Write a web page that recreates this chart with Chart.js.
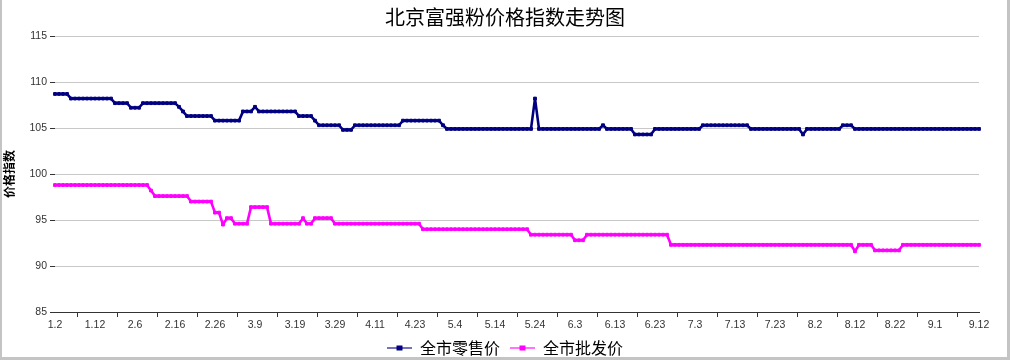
<!DOCTYPE html>
<html><head><meta charset="utf-8">
<script src="https://cdn.jsdelivr.net/npm/chart.js@4/dist/chart.umd.min.js"></script>
<style>
html,body{margin:0;padding:0;background:#fff;overflow:hidden;}
#wrap{position:relative;width:1010px;height:360px;}
#frame{position:absolute;left:0;top:0;width:1010px;height:360px;box-sizing:border-box;border-left:2px solid #c4c4c4;border-right:3px solid #c4c4c4;border-bottom:3px solid #c4c4c4;pointer-events:none;}
</style></head><body>
<div id="wrap"><canvas id="c" width="1010" height="360"></canvas><div id="frame"></div></div>
<script>
// ---- data ----
const tickLabels = ['1.2','1.12','2.6','2.16','2.26','3.9','3.19','3.29','4.11','4.23','5.4','5.14','5.24','6.3','6.13','6.23','7.3','7.13','7.23','8.2','8.12','8.22','9.1','9.12'];
const tickIndex = [0,10,20,30,40,50,60,70,80,90,100,110,120,130,140,150,160,170,180,190,200,210,220,231];
const yTicks = [85,90,95,100,105,110,115];
const seriesNames = ['全市零售价','全市批发价'];
const retail = [
108.7,108.7,108.7,108.7,108.2,108.2,108.2,108.2,108.2,108.2,
108.2,108.2,108.2,108.2,108.2,107.7,107.7,107.7,107.7,107.2,
107.2,107.2,107.7,107.7,107.7,107.7,107.7,107.7,107.7,107.7,
107.7,107.3,106.8,106.3,106.3,106.3,106.3,106.3,106.3,106.3,
105.8,105.8,105.8,105.8,105.8,105.8,105.8,106.8,106.8,106.8,
107.3,106.8,106.8,106.8,106.8,106.8,106.8,106.8,106.8,106.8,
106.8,106.3,106.3,106.3,106.3,105.8,105.3,105.3,105.3,105.3,
105.3,105.3,104.8,104.8,104.8,105.3,105.3,105.3,105.3,105.3,
105.3,105.3,105.3,105.3,105.3,105.3,105.3,105.8,105.8,105.8,
105.8,105.8,105.8,105.8,105.8,105.8,105.8,105.3,104.9,104.9,
104.9,104.9,104.9,104.9,104.9,104.9,104.9,104.9,104.9,104.9,
104.9,104.9,104.9,104.9,104.9,104.9,104.9,104.9,104.9,104.9,
108.2,104.9,104.9,104.9,104.9,104.9,104.9,104.9,104.9,104.9,
104.9,104.9,104.9,104.9,104.9,104.9,104.9,105.3,104.9,104.9,
104.9,104.9,104.9,104.9,104.9,104.3,104.3,104.3,104.3,104.3,
104.9,104.9,104.9,104.9,104.9,104.9,104.9,104.9,104.9,104.9,
104.9,104.9,105.3,105.3,105.3,105.3,105.3,105.3,105.3,105.3,
105.3,105.3,105.3,105.3,104.9,104.9,104.9,104.9,104.9,104.9,
104.9,104.9,104.9,104.9,104.9,104.9,104.9,104.3,104.9,104.9,
104.9,104.9,104.9,104.9,104.9,104.9,104.9,105.3,105.3,105.3,
104.9,104.9,104.9,104.9,104.9,104.9,104.9,104.9,104.9,104.9,
104.9,104.9,104.9,104.9,104.9,104.9,104.9,104.9,104.9,104.9,
104.9,104.9,104.9,104.9,104.9,104.9,104.9,104.9,104.9,104.9,
104.9,104.9
];
const wholesale = [
98.8,98.8,98.8,98.8,98.8,98.8,98.8,98.8,98.8,98.8,
98.8,98.8,98.8,98.8,98.8,98.8,98.8,98.8,98.8,98.8,
98.8,98.8,98.8,98.8,98.2,97.6,97.6,97.6,97.6,97.6,
97.6,97.6,97.6,97.6,97.0,97.0,97.0,97.0,97.0,97.0,
95.8,95.8,94.5,95.2,95.2,94.6,94.6,94.6,94.6,96.4,
96.4,96.4,96.4,96.4,94.6,94.6,94.6,94.6,94.6,94.6,
94.6,94.6,95.2,94.6,94.6,95.2,95.2,95.2,95.2,95.2,
94.6,94.6,94.6,94.6,94.6,94.6,94.6,94.6,94.6,94.6,
94.6,94.6,94.6,94.6,94.6,94.6,94.6,94.6,94.6,94.6,
94.6,94.6,94.0,94.0,94.0,94.0,94.0,94.0,94.0,94.0,
94.0,94.0,94.0,94.0,94.0,94.0,94.0,94.0,94.0,94.0,
94.0,94.0,94.0,94.0,94.0,94.0,94.0,94.0,94.0,93.4,
93.4,93.4,93.4,93.4,93.4,93.4,93.4,93.4,93.4,93.4,
92.8,92.8,92.8,93.4,93.4,93.4,93.4,93.4,93.4,93.4,
93.4,93.4,93.4,93.4,93.4,93.4,93.4,93.4,93.4,93.4,
93.4,93.4,93.4,93.4,92.3,92.3,92.3,92.3,92.3,92.3,
92.3,92.3,92.3,92.3,92.3,92.3,92.3,92.3,92.3,92.3,
92.3,92.3,92.3,92.3,92.3,92.3,92.3,92.3,92.3,92.3,
92.3,92.3,92.3,92.3,92.3,92.3,92.3,92.3,92.3,92.3,
92.3,92.3,92.3,92.3,92.3,92.3,92.3,92.3,92.3,92.3,
91.6,92.3,92.3,92.3,92.3,91.7,91.7,91.7,91.7,91.7,
91.7,91.7,92.3,92.3,92.3,92.3,92.3,92.3,92.3,92.3,
92.3,92.3,92.3,92.3,92.3,92.3,92.3,92.3,92.3,92.3,
92.3,92.3
];

// ---- build category labels from the tick label list ----
const categories = retail.map((_, i) => {
  const k = tickIndex.indexOf(i);
  return k >= 0 ? tickLabels[k] : '';
});

const colors = ['#000080', '#ff00ff'];
const lineColors = ['rgba(0,0,128,0.55)', 'rgba(255,0,255,0.55)'];

function legendIcon(c, lc) {
  const cv = document.createElement('canvas');
  cv.width = 25; cv.height = 8;
  const g = cv.getContext('2d');
  g.strokeStyle = lc; g.lineWidth = 2;
  g.beginPath(); g.moveTo(0, 4); g.lineTo(25, 4); g.stroke();
  g.fillStyle = c; g.fillRect(9.5, 1.5, 6, 5);
  return cv;
}
const icons = colors.map((c, i) => legendIcon(c, lineColors[i]));

const tickFont = {family: '"Liberation Sans", Arial, sans-serif', size: 10.5};
const cjk = '"Noto Sans CJK SC", "Noto Sans", sans-serif';

function ds(name, data, color) {
  return {
    label: name, data: data,
    borderColor: color, backgroundColor: color,
    borderWidth: 2.6, tension: 0, borderJoinStyle: 'round', borderCapStyle: 'butt',
    pointStyle: 'rect', pointRadius: 2, pointBorderWidth: 1,
    pointHoverRadius: 2
  };
}

new Chart(document.getElementById('c'), {
  type: 'line',
  data: {
    labels: categories,
    datasets: [ds(seriesNames[0], retail, colors[0]), ds(seriesNames[1], wholesale, colors[1])]
  },
  options: {
    responsive: false, animation: false, devicePixelRatio: 1,
    events: [],
    layout: {padding: {left: 0, right: 0, top: 0, bottom: -6}},
    plugins: {
      tooltip: {enabled: false},
      title: {
        display: true, text: '北京富强粉价格指数走势图', color: '#000',
        font: {family: cjk, size: 20, weight: 'normal'},
        padding: {top: 5, bottom: 7}
      },
      legend: {
        position: 'bottom',
        labels: {
          usePointStyle: true, pointStyleWidth: 25, color: '#000', padding: 10,
          font: {family: cjk, size: 16},
          generateLabels: (chart) => Chart.defaults.plugins.legend.labels.generateLabels(chart)
            .map((l, i) => Object.assign(l, {pointStyle: icons[i]}))
        }
      }
    },
    scales: {
      x: {
        type: 'category',
        offset: false,
        afterFit: (s) => { s.height = 18; },
        grid: {
          offset: true, drawOnChartArea: false, tickLength: 5,
          color: (ctx) => (ctx.index % 10 === 6 ? '#333' : 'rgba(0,0,0,0)'),
          tickColor: (ctx) => (ctx.index % 10 === 6 ? '#333' : 'rgba(0,0,0,0)')
        },
        border: {display: true, color: '#333', width: 1},
        ticks: {
          autoSkip: false, maxRotation: 0, minRotation: 0, padding: 2,
          color: '#333', font: tickFont,
          callback: (v, i) => categories[i]
        }
      },
      y: {
        min: 85, max: 115,
        afterFit: (s) => { s.width = 55; },
        afterBuildTicks: (s) => { s.ticks = yTicks.map(v => ({value: v})); },
        grid: {color: '#c8c8c8', tickColor: '#333', tickLength: 5, lineWidth: 1},
        border: {display: false},
        ticks: {color: '#333', font: tickFont, padding: 3},
        title: {display: true, text: '价格指数', color: '#000', font: {family: cjk, size: 12, weight: 'bold'}, padding: {top: 2, bottom: 0}}
      },
      yR: {
        position: 'right', display: true,
        afterFit: (s) => { s.width = 31; },
        grid: {display: false}, border: {display: false},
        ticks: {display: false}
      }
    }
  }
});
</script>
</body></html>
